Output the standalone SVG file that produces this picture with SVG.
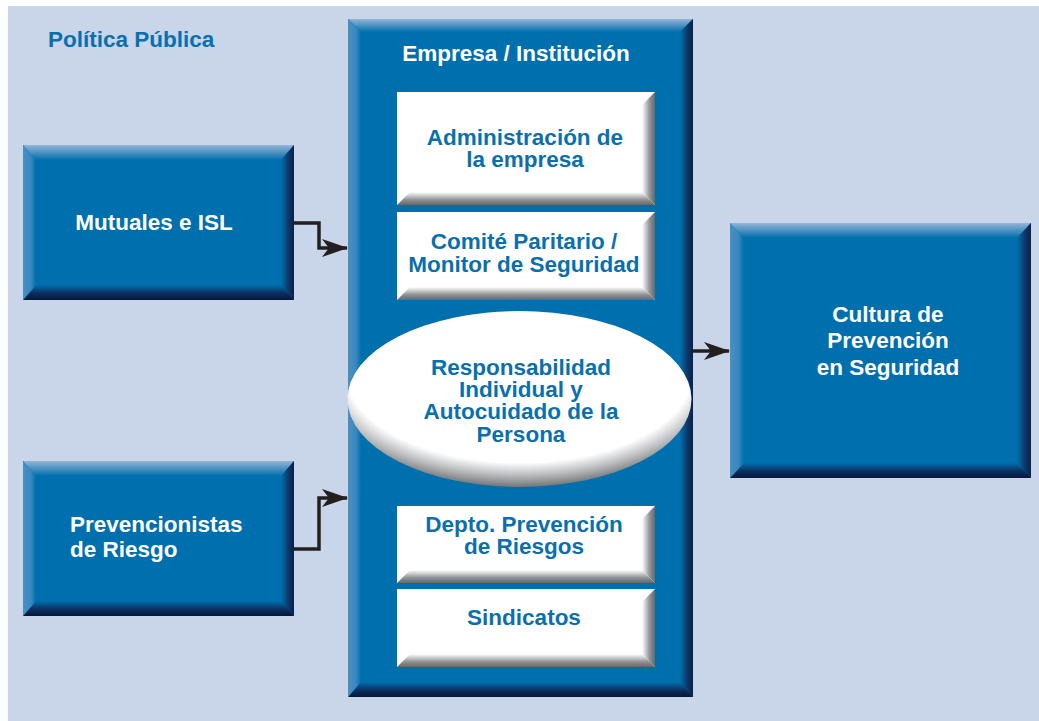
<svg xmlns="http://www.w3.org/2000/svg" width="1039" height="721" viewBox="0 0 1039 721">
  <defs>
    <style>
      .t { font-family: "Liberation Sans", Arial, sans-serif; font-weight: bold; font-size: 22.5px; }
      .w { fill: #ffffff; }
      .b { fill: #0b6fad; }
      .base { fill: #006fad; }
      .bt { fill: url(#bevTop); }
      .bb { fill: url(#bevBot); }
      .bl { fill: url(#bevLeft); }
      .br { fill: url(#bevRight); }
      .card { fill: #ffffff; }
      .cb { fill: url(#cardBot); }
      .cr { fill: url(#cardRight); }
      .conn { fill: none; stroke: #231f20; stroke-width: 3.5; }
    </style>
    <!-- bevel bands for the blue boxes -->
    <linearGradient id="bevTop" x1="0" y1="0" x2="0" y2="1">
      <stop offset="0" stop-color="#95b4d6"/>
      <stop offset="1" stop-color="#006fad"/>
    </linearGradient>
    <linearGradient id="bevBot" x1="0" y1="0" x2="0" y2="1">
      <stop offset="0" stop-color="#006fad"/>
      <stop offset="0.55" stop-color="#0b2f60"/>
      <stop offset="1" stop-color="#06163a"/>
    </linearGradient>
    <linearGradient id="bevLeft" x1="0" y1="0" x2="1" y2="0">
      <stop offset="0" stop-color="#4a90c2"/>
      <stop offset="0.6" stop-color="#3a88bd"/>
      <stop offset="1" stop-color="#006fad"/>
    </linearGradient>
    <linearGradient id="bevRight" x1="0" y1="0" x2="1" y2="0">
      <stop offset="0" stop-color="#006fad"/>
      <stop offset="0.6" stop-color="#0d3566"/>
      <stop offset="1" stop-color="#0a2048"/>
    </linearGradient>
    <!-- grey shading on the white cards -->
    <linearGradient id="cardBot" x1="0" y1="0" x2="0" y2="1">
      <stop offset="0" stop-color="#ffffff"/>
      <stop offset="0.6" stop-color="#8f9295"/>
      <stop offset="1" stop-color="#66696c"/>
    </linearGradient>
    <linearGradient id="cardRight" x1="0" y1="0" x2="1" y2="0">
      <stop offset="0" stop-color="#ffffff"/>
      <stop offset="0.6" stop-color="#8f9295"/>
      <stop offset="1" stop-color="#66696c"/>
    </linearGradient>
    <radialGradient id="oval" cx="0.5" cy="0.38" r="0.64" fx="0.5" fy="0.3">
      <stop offset="0" stop-color="#ffffff"/>
      <stop offset="0.78" stop-color="#ffffff"/>
      <stop offset="0.88" stop-color="#b9bbbd"/>
      <stop offset="1" stop-color="#5f6265"/>
    </radialGradient>
    <marker id="arrow" viewBox="0 0 26 18" refX="25" refY="9" markerWidth="26" markerHeight="18" markerUnits="userSpaceOnUse" orient="auto">
      <path d="M0,0 L26,9 L0,18 L7,9 Z" fill="#231f20"/>
    </marker>
  </defs>

  <rect width="1039" height="721" fill="#ffffff"/>
  <rect x="8" y="6" width="1031" height="715" fill="#c9d5e8"/>

  <text class="t b" x="48" y="47">Política Pública</text>

  <!-- Empresa / Institución column -->
  <g id="empresa">
    <rect class="base" x="348" y="19" width="345" height="678"/>
    <polygon class="bt" points="348,19 693,19 680,32 361,32"/>
    <polygon class="bb" points="348,697 693,697 680,682 361,682"/>
    <polygon class="bl" points="348,19 361,32 361,682 348,697"/>
    <polygon class="br" points="693,19 680,32 680,682 693,697"/>
    <text class="t w" x="516" y="61" text-anchor="middle">Empresa / Institución</text>
  </g>

  <g id="admin">
    <rect class="card" x="397" y="92" width="258" height="113"/>
    <polygon class="cr" points="655,92 655,205 642,192 642,105"/>
    <polygon class="cb" points="397,205 655,205 642,192 410,192"/>
    <text class="t b" x="525" text-anchor="middle"><tspan x="525" y="145">Administración de</tspan><tspan x="525" y="167">la empresa</tspan></text>
  </g>

  <g id="comite">
    <rect class="card" x="397" y="212" width="258" height="88"/>
    <polygon class="cr" points="655,212 655,300 642,287 642,225"/>
    <polygon class="cb" points="397,300 655,300 642,287 410,287"/>
    <text class="t b" x="524" text-anchor="middle"><tspan x="524" y="249">Comité Paritario /</tspan><tspan x="524" y="272">Monitor de Seguridad</tspan></text>
  </g>

  <g id="responsabilidad">
    <ellipse cx="519.5" cy="399" rx="172" ry="88" fill="url(#oval)"/>
    <text class="t b" x="521" text-anchor="middle"><tspan x="521" y="375">Responsabilidad</tspan><tspan x="521" y="397">Individual y</tspan><tspan x="521" y="419">Autocuidado de la</tspan><tspan x="521" y="442">Persona</tspan></text>
  </g>

  <g id="depto">
    <rect class="card" x="397" y="506" width="258" height="77"/>
    <polygon class="cr" points="655,506 655,583 642,570 642,519"/>
    <polygon class="cb" points="397,583 655,583 642,570 410,570"/>
    <text class="t b" x="524" text-anchor="middle"><tspan x="524" y="532">Depto. Prevención</tspan><tspan x="524" y="554">de Riesgos</tspan></text>
  </g>

  <g id="sindicatos">
    <rect class="card" x="397" y="589" width="258" height="78"/>
    <polygon class="cr" points="655,589 655,667 642,654 642,602"/>
    <polygon class="cb" points="397,667 655,667 642,654 410,654"/>
    <text class="t b" x="524" y="625" text-anchor="middle">Sindicatos</text>
  </g>

  <g id="mutuales">
    <rect class="base" x="23" y="145" width="271" height="155"/>
    <polygon class="bt" points="23,145 294,145 281,160 36,160"/>
    <polygon class="bb" points="23,300 294,300 281,285 36,285"/>
    <polygon class="bl" points="23,145 36,160 36,285 23,300"/>
    <polygon class="br" points="294,145 281,160 281,285 294,300"/>
    <text class="t w" x="154" y="230" text-anchor="middle">Mutuales e ISL</text>
  </g>

  <g id="prevencionistas">
    <rect class="base" x="23" y="461" width="271" height="155"/>
    <polygon class="bt" points="23,461 294,461 281,476 36,476"/>
    <polygon class="bb" points="23,616 294,616 281,601 36,601"/>
    <polygon class="bl" points="23,461 36,476 36,601 23,616"/>
    <polygon class="br" points="294,461 281,476 281,601 294,616"/>
    <text class="t w"><tspan x="70" y="532">Prevencionistas</tspan><tspan x="70" y="557">de Riesgo</tspan></text>
  </g>

  <g id="cultura">
    <rect class="base" x="730" y="223" width="301" height="255"/>
    <polygon class="bt" points="730,223 1031,223 1017,238 744,238"/>
    <polygon class="bb" points="730,478 1031,478 1017,463 744,463"/>
    <polygon class="bl" points="730,223 744,238 744,463 730,478"/>
    <polygon class="br" points="1031,223 1017,238 1017,463 1031,478"/>
    <text class="t w" x="888" text-anchor="middle"><tspan x="888" y="322">Cultura de</tspan><tspan x="888" y="348">Prevención</tspan><tspan x="888" y="375">en Seguridad</tspan></text>
  </g>

  <g id="connectors">
    <polyline class="conn" points="294,223 319,223 319,248 347,248" marker-end="url(#arrow)"/>
    <polyline class="conn" points="294,549 319,549 319,498 347,498" marker-end="url(#arrow)"/>
    <line class="conn" x1="693" y1="351" x2="729" y2="351" marker-end="url(#arrow)"/>
  </g>
</svg>
